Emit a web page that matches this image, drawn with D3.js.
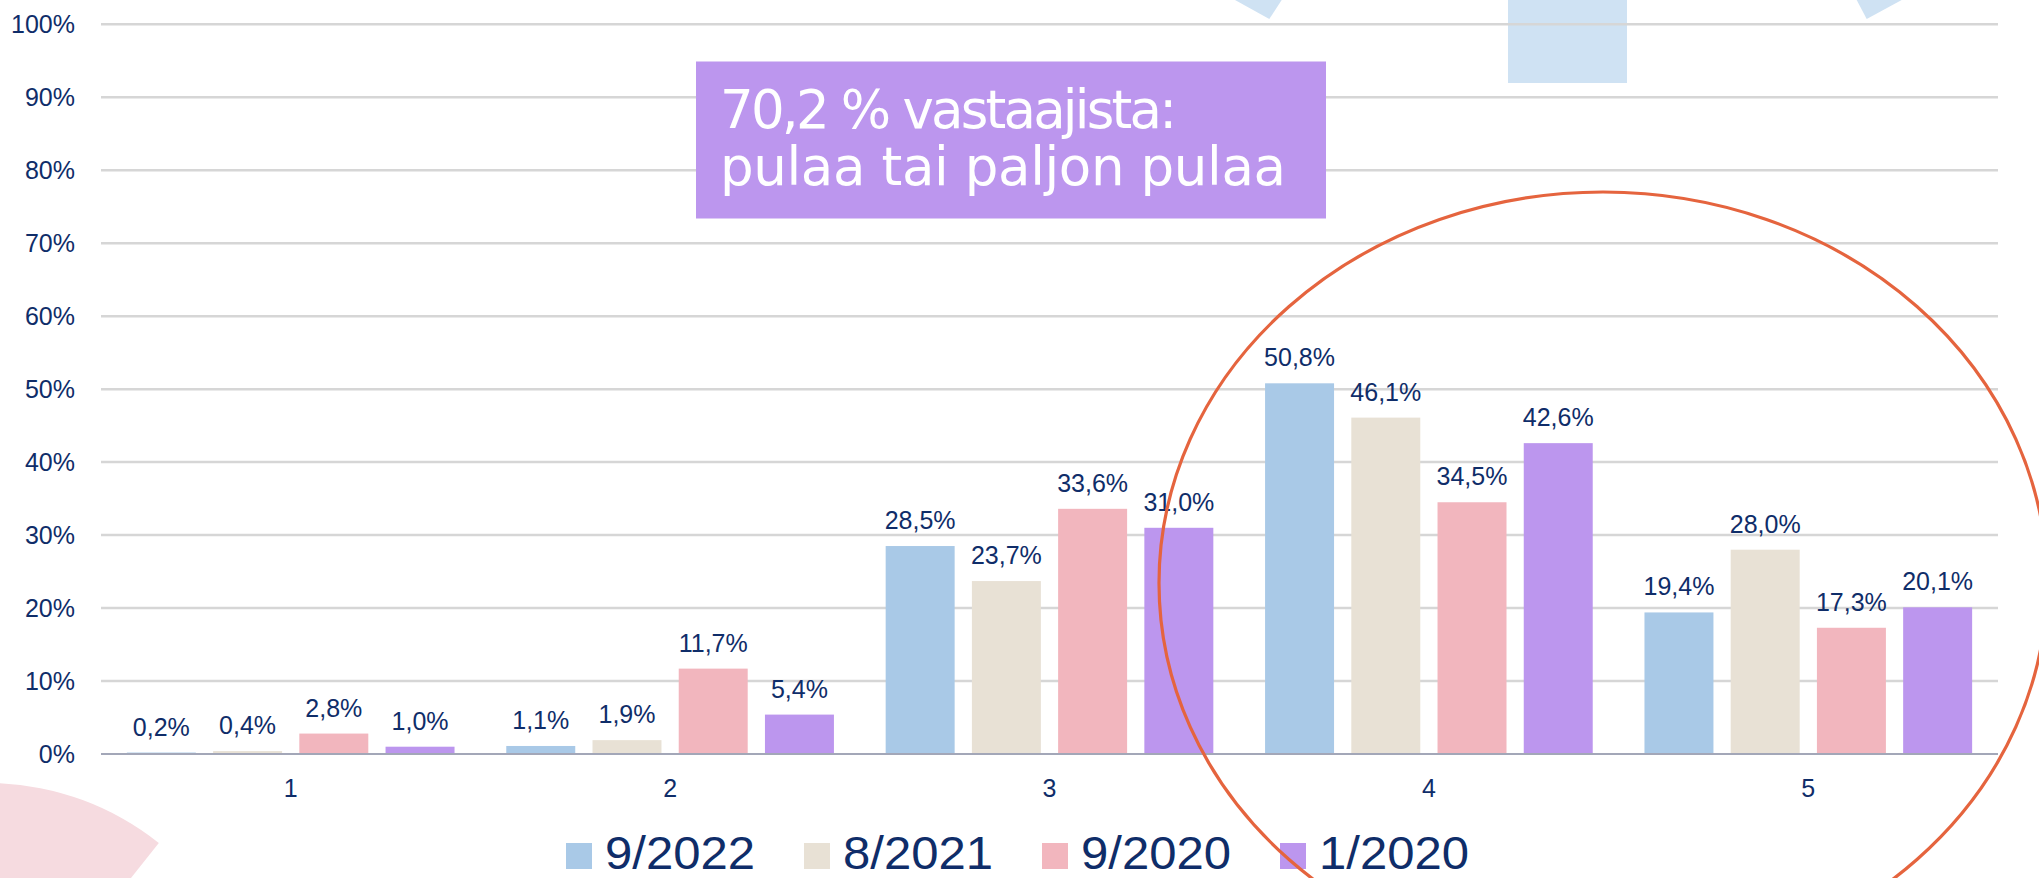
<!DOCTYPE html>
<html>
<head>
<meta charset="utf-8">
<script src="https://cdn.jsdelivr.net/npm/d3@7"></script>
<style>
  html, body { margin: 0; padding: 0; background: #ffffff; }
  svg { display: block; }
</style>
</head>
<body>
<svg id="chart" width="2039" height="878"></svg>
<script>
// ---- data ----
const categories = ["1", "2", "3", "4", "5"];
const seriesNames = ["9/2022", "8/2021", "9/2020", "1/2020"];
const values_9_2022 = [0.2, 1.1, 28.5, 50.8, 19.4];
const values_8_2021 = [0.4, 1.9, 23.7, 46.1, 28.0];
const values_9_2020 = [2.8, 11.7, 33.6, 34.5, 17.3];
const values_1_2020 = [1.0, 5.4, 31.0, 42.6, 20.1];
const yTickValues = [0, 10, 20, 30, 40, 50, 60, 70, 80, 90, 100];
const annotationLines = ["70,2 % vastaajista:", "pulaa tai paljon pulaa"];

const seriesColors = ["#A9C9E7", "#E8E1D5", "#F2B6BE", "#BC96EE"];
const seriesValues = [values_9_2022, values_8_2021, values_9_2020, values_1_2020];

const textColor = "#0f2d69";
const svg = d3.select("#chart");

// ---- scales ----
const x0 = d3.scaleBand().domain(categories).range([101, 1998]).padding(0);
const x1 = d3.scaleBand().domain(seriesNames).range([0, x0.bandwidth()])
  .paddingInner(0.2).paddingOuter(0.3);
const y = d3.scaleLinear().domain([0, 100]).range([754, 24.3]);
const fmt = v => d3.format(".1f")(v).replace(".", ",") + "%";

// ---- background decorations ----
const deco = svg.append("g");
deco.append("rect").attr("x", 1508).attr("y", 0).attr("width", 119).attr("height", 83)
  .attr("fill", "#CFE2F3");
deco.append("path").attr("d", "M1235,0 L1281.7,0 L1269.3,19 Z").attr("fill", "#CFE2F3");
deco.append("path").attr("d", "M1856.7,0 L1901.7,0 L1866.7,19 Z").attr("fill", "#CFE2F3");
const pinkArc = d3.arc().innerRadius(0).outerRadius(276).startAngle(-0.6).endAngle(0.672);
deco.append("path").attr("d", pinkArc()).attr("transform", "translate(-13,1059)")
  .attr("fill", "#F6DBE0");

// ---- gridlines ----
const grid = svg.append("g");
grid.selectAll("line").data(yTickValues.filter(d => d > 0)).join("line")
  .attr("x1", 101).attr("x2", 1998)
  .attr("y1", d => y(d)).attr("y2", d => y(d))
  .attr("stroke", "#D6D6D6").attr("stroke-width", 2.5);

// y axis labels
svg.append("g").selectAll("text").data(yTickValues).join("text")
  .attr("x", 75).attr("y", d => y(d) + 9)
  .attr("text-anchor", "end")
  .attr("font-family", "Liberation Sans, Arial, sans-serif")
  .attr("font-size", 25).attr("fill", textColor)
  .text(d => d + "%");

// ---- bars ----
const rows = [];
seriesNames.forEach((s, si) => {
  categories.forEach((c, ci) => {
    rows.push({ cat: c, series: s, value: seriesValues[si][ci], color: seriesColors[si] });
  });
});

svg.append("g").selectAll("rect").data(rows).join("rect")
  .attr("x", d => x0(d.cat) + x1(d.series))
  .attr("y", d => y(d.value))
  .attr("width", x1.bandwidth())
  .attr("height", d => y(0) - y(d.value))
  .attr("fill", d => d.color);

// baseline
svg.append("line").attr("x1", 101).attr("x2", 1998).attr("y1", y(0)).attr("y2", y(0))
  .attr("stroke", "#A3A7B8").attr("stroke-width", 2);

// data labels
svg.append("g").selectAll("text").data(rows).join("text")
  .attr("x", d => x0(d.cat) + x1(d.series) + x1.bandwidth() / 2)
  .attr("y", d => y(d.value) - 17)
  .attr("text-anchor", "middle")
  .attr("font-family", "Liberation Sans, Arial, sans-serif")
  .attr("font-size", 25).attr("fill", textColor)
  .text(d => fmt(d.value));

// category labels
svg.append("g").selectAll("text").data(categories).join("text")
  .attr("x", d => x0(d) + x0.bandwidth() / 2)
  .attr("y", 797)
  .attr("text-anchor", "middle")
  .attr("font-family", "Liberation Sans, Arial, sans-serif")
  .attr("font-size", 25).attr("fill", textColor)
  .text(d => d);

// ---- annotation box ----
const box = svg.append("g");
box.append("rect").attr("x", 696).attr("y", 61.5).attr("width", 630).attr("height", 157)
  .attr("fill", "#BC96EE");
const lineLengths = [457, 566];
box.selectAll("text").data(annotationLines).join("text")
  .attr("x", 720).attr("y", (d, i) => 128 + i * 57)
  .attr("font-family", "DejaVu Sans, sans-serif")
  .attr("font-weight", 400)
  .attr("font-size", 53).attr("fill", "#ffffff")
  .attr("textLength", (d, i) => lineLengths[i]).attr("lengthAdjust", "spacing")
  .text(d => d);

// ---- legend ----
const legend = svg.append("g");
const legendItems = legend.selectAll("g").data(seriesNames).join("g")
  .attr("transform", (d, i) => `translate(${566 + i * 238},0)`);
legendItems.append("rect").attr("x", 0).attr("y", 843).attr("width", 26).attr("height", 26)
  .attr("fill", (d, i) => seriesColors[i]);
legendItems.append("text").attr("x", 39).attr("y", 869)
  .attr("font-family", "Liberation Sans, Arial, sans-serif")
  .attr("font-size", 46).attr("fill", textColor)
  .attr("textLength", 150).attr("lengthAdjust", "spacingAndGlyphs")
  .text(d => d);

// ---- highlight ellipse ----
svg.append("ellipse").attr("cx", 1603).attr("cy", 583).attr("rx", 444).attr("ry", 391)
  .attr("fill", "none").attr("stroke", "#E5643E").attr("stroke-width", 3.2);
</script>
</body>
</html>
